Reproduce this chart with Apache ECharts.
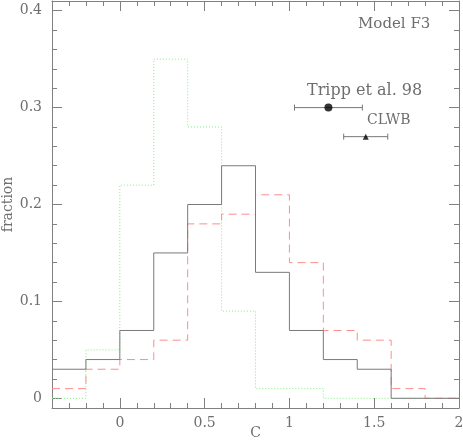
<!DOCTYPE html>
<html>
<head>
<meta charset="utf-8">
<script src="https://cdn.jsdelivr.net/npm/echarts@6/dist/echarts.min.js"></script>
<style>
  html, body { margin: 0; padding: 0; background: #fff; }
  #chart { width: 463px; height: 447px; }
</style>
</head>
<body>
<div id="chart"></div>
<script>
// bin edges (C) and fraction per bin
var binEdges = [-0.4, -0.2, 0, 0.2, 0.4, 0.6, 0.8, 1.0, 1.2, 1.4, 1.6, 1.8, 2.0];
var solidVals = [0.03, 0.04, 0.07, 0.15, 0.20, 0.24, 0.13, 0.07, 0.04, 0.03, 0.00, 0.00];
var dashedVals = [0.01, 0.03, 0.04, 0.06, 0.18, 0.19, 0.21, 0.14, 0.07, 0.06, 0.01, 0.00];
var dottedVals = [0.00, 0.05, 0.22, 0.35, 0.28, 0.09, 0.01, 0.01, 0.00, 0.00, 0.00, 0.00];

// observed points: [x, y, xlow, xhigh]
var tripp = [1.23, 0.30, 1.03, 1.43];
var clwb = [1.45, 0.27, 1.32, 1.58];

// ticks
var xMajor = [0, 0.5, 1, 1.5, 2];
var yMajor = [0, 0.1, 0.2, 0.3, 0.4];
var yMinor = [0, 0.02, 0.04, 0.06, 0.08, 0.1, 0.12, 0.14, 0.16, 0.18, 0.2, 0.22, 0.24, 0.26,
              0.28, 0.3, 0.32, 0.34, 0.36, 0.38, 0.4];

var textColor = '#6e6e6e';
var font = 'DejaVu Serif';

// histogram as step line: left edges + last right edge
function stepData(vals) {
  var d = [];
  for (var i = 0; i < vals.length; i++) d.push([binEdges[i], vals[i]]);
  d.push([binEdges[binEdges.length - 1], vals[vals.length - 1]]);
  return d;
}

function tickAxis(pos, ticks, len, main) {
  var isX = pos === 'bottom' || pos === 'top';
  var ax = {
    type: 'value',
    min: isX ? -0.4 : -0.01,
    max: isX ? 2 : 0.41,
    axisLine: { show: !!main, onZero: false, lineStyle: { color: 'gray' } },
    axisTick: { show: true, inside: true, length: len, lineStyle: { color: 'gray' } },
    axisLabel: { show: false },
    splitLine: { show: false }
  };
  if (!(main && (pos === 'bottom' || pos === 'left'))) ax.position = pos;
  if (ticks) {
    ax.axisTick.customValues = ticks;
  } else {
    ax.interval = 0.1;   // x minor ticks, min -0.4 is a multiple
  }
  if (main && (pos === 'bottom' || pos === 'left')) {
    ax.axisLabel = {
      customValues: ticks, color: textColor, fontFamily: font, fontSize: 14,
      margin: isX ? 8 : 10,
      formatter: function (v) { return String(Math.round(v * 100) / 100); }
    };
  }
  return ax;
}

function errRender(params, api) {
  var y = api.value(1);
  var lo = api.coord([api.value(2), y]);
  var hi = api.coord([api.value(3), y]);
  var s = { stroke: '#777', lineWidth: 1 };
  return {
    type: 'group',
    children: [
      { type: 'line', shape: { x1: lo[0], y1: lo[1], x2: hi[0], y2: hi[1] }, style: s },
      { type: 'line', shape: { x1: lo[0], y1: lo[1] - 3, x2: lo[0], y2: lo[1] + 3 }, style: s },
      { type: 'line', shape: { x1: hi[0], y1: hi[1] - 3, x2: hi[0], y2: hi[1] + 3 }, style: s }
    ]
  };
}

var chart = echarts.init(document.getElementById('chart'));
var xa = tickAxis('bottom', xMajor, 10, true);
xa.name = 'C';
xa.nameLocation = 'middle';
xa.nameGap = 18;
xa.nameMoveOverlap = false;
xa.nameTextStyle = { color: textColor, fontFamily: font, fontSize: 14 };
var ya = tickAxis('left', yMajor, 10, true);
ya.name = 'fraction';
ya.nameLocation = 'middle';
ya.nameGap = 37;
ya.nameMoveOverlap = false;
ya.nameTextStyle = { color: textColor, fontFamily: font, fontSize: 14 };

chart.setOption({
  animation: false,
  grid: { left: 52, right: 4, top: 1, bottom: 39, outerBoundsMode: 'none' },
  xAxis: [
    xa,
    tickAxis('bottom', null, 5, false),
    tickAxis('top', xMajor, 10, true),
    tickAxis('top', null, 5, false)
  ],
  yAxis: [
    ya,
    tickAxis('left', yMinor, 5, false),
    tickAxis('right', yMajor, 10, true),
    tickAxis('right', yMinor, 5, false)
  ],
  series: [
    {
      type: 'line', step: 'end', data: stepData(dottedVals), symbol: 'none',
      lineStyle: { color: '#7ef07e', width: 1, type: [1, 2] }
    },
    {
      type: 'line', step: 'end', data: stepData(dashedVals), symbol: 'none',
      lineStyle: { color: '#ff8c8c', width: 1, type: [8, 5] }
    },
    {
      type: 'line', step: 'end', data: stepData(solidVals), symbol: 'none',
      lineStyle: { color: '#7a7a7a', width: 1 }
    },
    {
      type: 'custom', renderItem: errRender, data: [tripp, clwb], z: 3
    },
    {
      type: 'scatter', symbol: 'circle', symbolSize: 8, data: [[tripp[0], tripp[1]]],
      itemStyle: { color: '#000' }, z: 4
    },
    {
      type: 'scatter', symbol: 'triangle', symbolSize: 6, data: [[clwb[0], clwb[1]]],
      itemStyle: { color: '#000' }, z: 4
    }
  ],
  graphic: [
    { type: 'text', left: 358, top: 17,
      style: { text: 'Model F3', fill: textColor, font: '15px "' + font + '"' } },
    { type: 'text', left: 307, top: 83,
      style: { text: 'Tripp et al. 98', fill: textColor, font: '16px "' + font + '"' } },
    { type: 'text', left: 367, top: 113,
      style: { text: 'CLWB', fill: textColor, font: '14px "' + font + '"' } }
  ]
});
</script>
</body>
</html>
